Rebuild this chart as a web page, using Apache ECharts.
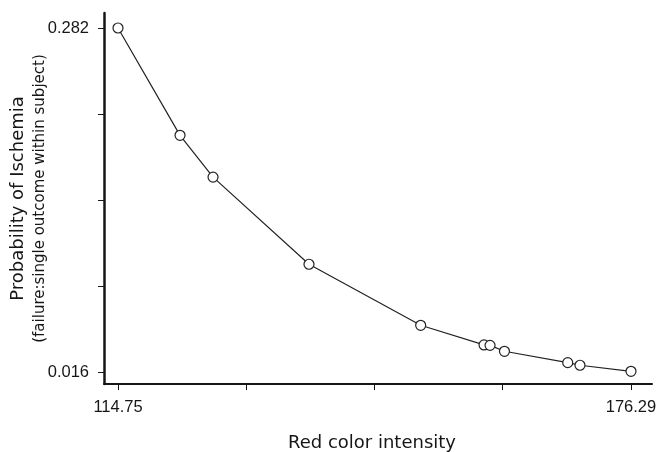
<!DOCTYPE html>
<html><head><meta charset="utf-8">
<script src="https://cdn.jsdelivr.net/npm/echarts@6/dist/echarts.min.js"></script>
<style>html,body{margin:0;padding:0;background:#fff}#c{width:659px;height:452px}</style>
</head><body><div id="c"></div>
<script>
const redIntensity = [114.75, 122.19, 126.15, 137.66, 151.06, 158.66, 159.38, 161.11, 168.70, 170.17, 176.29];
const probIschemia = [0.282, 0.199, 0.1667, 0.0993, 0.0521, 0.0369, 0.0366, 0.0320, 0.0232, 0.0212, 0.0165];
const xTicks = [114.75, 130.135, 145.52, 160.905, 176.29];
const xTickLabels = [114.75, 176.29];
const yTicks = [0.016, 0.0825, 0.149, 0.2155, 0.282];
const yTickLabels = [0.016, 0.282];

const pts = redIntensity.map((x, i) => [x, probIschemia[i]]);
const TICKFONT = '"Liberation Sans", Arial, sans-serif';
const TITLEFONT = '"DejaVu Sans", sans-serif';
const INK = '#161616';

const chart = echarts.init(document.getElementById('c'), null, {renderer: 'canvas'});
chart.setOption({
  animation: false,
  backgroundColor: '#fff',
  grid: {left: 104, right: 7, top: 13, bottom: 68, containLabel: false, outerBoundsMode: 'none'},
  xAxis: {
    type: 'value', min: 113.07, max: 178.81,
    splitLine: {show: false},
    axisLine: {show: true, onZero: false, lineStyle: {color: INK, width: 2}},
    axisTick: {show: true, customValues: xTicks, length: 6, lineStyle: {color: INK, width: 1}},
    axisLabel: {show: true, customValues: xTickLabels, margin: 15, hideOverlap: false,
      formatter: v => Number(v).toFixed(2), color: INK, fontFamily: TICKFONT, fontSize: 16.5},
    name: 'Red color intensity', nameLocation: 'middle', nameGap: 50, nameMoveOverlap: false,
    nameTextStyle: {color: INK, fontFamily: TITLEFONT, fontSize: 18, padding: [0, 12, 0, 0], verticalAlign: 'top'}
  },
  yAxis: {
    type: 'value', min: 0.0067, max: 0.2936,
    splitLine: {show: false},
    axisLine: {show: true, onZero: false, lineStyle: {color: INK, width: 2.5}},
    axisTick: {show: true, customValues: yTicks, length: 6, lineStyle: {color: INK, width: 1}},
    axisLabel: {show: true, customValues: yTickLabels, margin: 15, hideOverlap: false,
      formatter: v => Number(v).toFixed(3), color: INK, fontFamily: TICKFONT, fontSize: 16.5},
    name: '{a|Probability of Ischemia}\n{b|(failure:single outcome within subject)}',
    nameLocation: 'middle', nameRotate: 90, nameGap: 53, nameMoveOverlap: false,
    nameTextStyle: {
      color: INK, fontFamily: TITLEFONT, padding: [0, 0, 0, 0],
      rich: {
        a: {fontSize: 18, lineHeight: 22, color: INK, fontFamily: TITLEFONT},
        b: {fontSize: 15, lineHeight: 22, color: INK, fontFamily: TITLEFONT}
      }
    }
  },
  series: [{
    type: 'line', data: pts, smooth: false,
    symbol: 'circle', symbolSize: 10, showAllSymbol: true,
    lineStyle: {color: '#222', width: 1.2},
    itemStyle: {color: '#fff', borderColor: '#222', borderWidth: 1.2},
    z: 5
  }]
});
</script></body></html>
